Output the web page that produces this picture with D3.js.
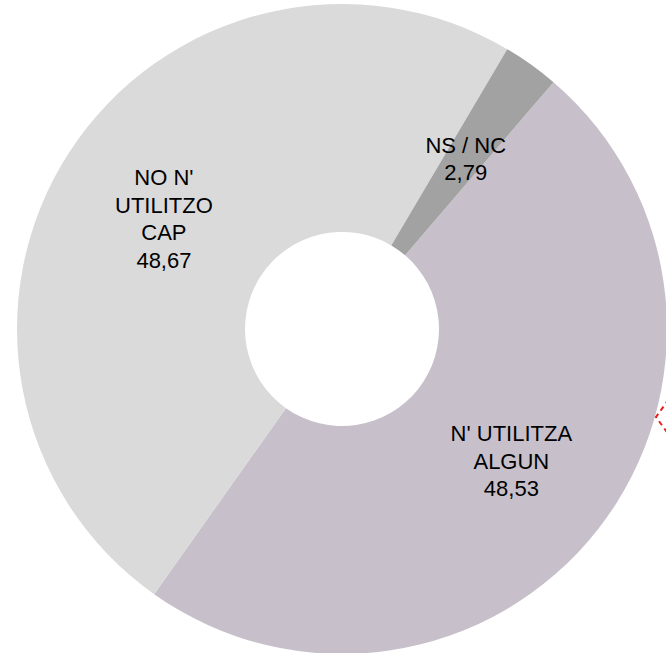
<!DOCTYPE html>
<html>
<head>
<meta charset="utf-8">
<script src="https://cdn.jsdelivr.net/npm/d3@7"></script>
<style>
  html, body { margin: 0; padding: 0; background: #fff; }
  svg { display: block; }
</style>
</head>
<body>
<svg width="666" height="653"></svg>
<script>
// data, clockwise from the first slice
var categories = ["N' UTILITZA ALGUN", "NO N' UTILITZO CAP", "NS / NC"]
var values = [48.53, 48.67, 2.79]
var labelLines = [["N' UTILITZA", "ALGUN", "48,53"], ["NO N'", "UTILITZO", "CAP", "48,67"], ["NS / NC", "2,79"]]
var colors = ["#c7c0ca", "#dadada", "#a2a2a2"]

var svg = d3.select("svg"),
  width = +svg.attr("width"),
  height = +svg.attr("height")

var cx = 342, cy = 329,
  outerR = 325, innerR = 97

var start = 40.6 * Math.PI / 180

var pie = d3.pie()
  .sort(null)
  .startAngle(start)
  .endAngle(start + 2 * Math.PI)
  .value(function (d) { return d; })

var arc = d3.arc().innerRadius(innerR).outerRadius(outerR)

var g = svg.append("g").attr("transform", "translate(" + cx + "," + cy + ")")

var arcs = pie(values)

g.selectAll("path.slice")
  .data(arcs)
  .enter().append("path")
  .attr("class", "slice")
  .attr("d", arc)
  .attr("fill", function (d, i) { return colors[i]; })

//Labels at slice centroid (small nudges like the original)
var lineH = 27.5
var nudge = [[3, 2], [-1, 4], [1, 1]]
g.selectAll("text.lbl")
  .data(arcs)
  .enter().append("text")
  .attr("class", "lbl")
  .attr("text-anchor", "middle")
  .attr("font-family", "'Liberation Sans', Arial, sans-serif")
  .attr("font-size", 22)
  .attr("fill", "#000")
  .each(function (d, i) {
    var c = arc.centroid(d)
    var lines = labelLines[i]
    var t = d3.select(this)
    var x = c[0] + nudge[i][0]
    var y0 = c[1] + nudge[i][1] - (lines.length - 1) * lineH / 2 + 8
    lines.forEach(function (s, k) {
      t.append("tspan")
        .attr("x", x)
        .attr("y", y0 + k * lineH)
        .text(s)
    })
  })

// red dashed selection corner at right edge
svg.append("path")
  .attr("d", d3.line()([[674, 392], [656, 417], [674, 442]]))
  .attr("fill", "none")
  .attr("stroke", "#e8201c")
  .attr("stroke-width", 2)
  .attr("stroke-dasharray", "5,4")
</script>
</body>
</html>
